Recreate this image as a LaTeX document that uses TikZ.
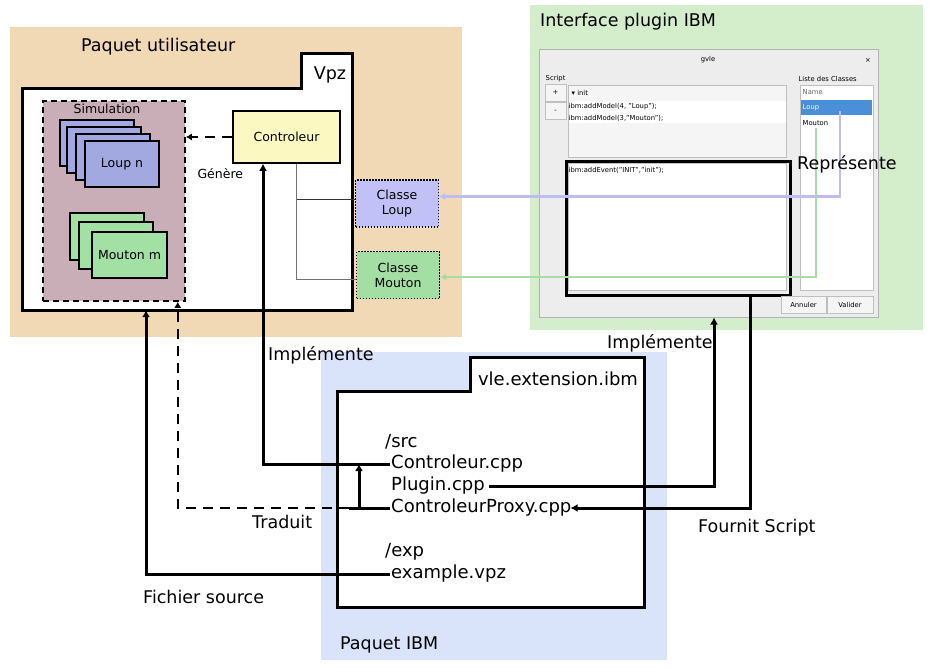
\documentclass[tikz,border=0pt]{standalone}
\usepackage{fontspec}
\setmainfont{DejaVu Sans}
\usepackage{xcolor}
\definecolor{userbg}{HTML}{F1D9B5}
\definecolor{ifacebg}{HTML}{D4EDCB}
\definecolor{ibmbg}{HTML}{D9E4FA}
\definecolor{simfill}{HTML}{C9AEB8}
\definecolor{loupfill}{HTML}{A1A9E0}
\definecolor{moutonfill}{HTML}{A3E0A3}
\definecolor{ctrlfill}{HTML}{FBF8C1}
\definecolor{classloup}{HTML}{C1C1F8}
\definecolor{classmouton}{HTML}{A3DFA3}
\definecolor{loupline}{HTML}{BDBDF2}
\definecolor{moutonline}{HTML}{A6DDA6}
\definecolor{winbg}{HTML}{EDEDED}
\definecolor{selblue}{HTML}{4A90D9}
\usetikzlibrary{arrows.meta,positioning,calc}

\tikzset{
  biglabel/.style={font=\fontsize{17.5}{21}\selectfont, inner sep=1pt},
  filetext/.style={font=\fontsize{18}{21}\selectfont, inner sep=1pt, anchor=west},
  folderline/.style={line width=3pt, fill=white},
  stackbox/.style={draw, line width=1.5pt, minimum width=74, minimum height=46},
  classbox/.style={draw, line width=1.2pt, dash pattern=on 1.5pt off 1.5pt,
    minimum width=83, minimum height=47, align=center},
  heavy/.style={line width=3pt},
  heavyarrow/.style={line width=3pt, -{Latex[length=7pt,width=8pt]}},
  dasharrow/.style={line width=2pt, dash pattern=on 10pt off 7pt, -{Latex[length=6pt,width=7pt]}},
  colarrow/.style={line width=2.2pt, -{Latex[length=6pt,width=7pt]}},
  tinytext/.style={font=\fontsize{6.8}{8}\selectfont, inner sep=0.5pt},
  guibtn/.style={draw=black!25, fill=black!4, tinytext},
}

\begin{document}
\begin{tikzpicture}[x=1pt, y=-1pt, font=\fontsize{12.5}{15}\selectfont]
  \useasboundingbox (0,0) rectangle (929,667);

  % Package backgrounds
  \fill[userbg] (10,27) rectangle (462,337);
  \fill[ifacebg] (530,5) rectangle (923,330);
  \fill[ibmbg] (321,352) rectangle (667,660);
  \node[biglabel, anchor=west] (paqUser) at (80,47) {Paquet utilisateur};
  \node[biglabel, anchor=west] (paqIface) at (539,22) {Interface plugin IBM};
  \node[biglabel, anchor=west] (paqIBM) at (339,645) {Paquet IBM};

  % Vpz folder
  \node[minimum width=329, minimum height=221, inner sep=0] (vpz) at (187.5,199.5) {};
  \draw[folderline] (vpz.south west) |- ([xshift=-51pt]vpz.north east)
    |- ++(51,-35) -- (vpz.south east) -- cycle;
  \node[biglabel] (vpzlbl) at (330,75) {Vpz};

  % Simulation
  \node[draw, fill=simfill, line width=1.5pt, dash pattern=on 6pt off 4pt,
    minimum width=142, minimum height=200] (sim) at (114,201) {};
  \node (simlbl) at (107,109) {Simulation};
  \foreach \dx/\dy in {0/0,7/7,16/14}
    \draw[fill=loupfill, line width=1.5pt] (60+\dx,120+\dy) rectangle ++(74,46);
  \node[stackbox, fill=loupfill] (loup) at (122,164) {Loup n};
  \foreach \dx/\dy in {0/0,9/9}
    \draw[fill=moutonfill, line width=1.5pt] (70+\dx,213+\dy) rectangle ++(74,47);
  \node[stackbox, fill=moutonfill, minimum width=75] (mouton) at (129.5,255) {Mouton m};

  % Controleur and classes
  \node[draw, fill=ctrlfill, line width=1.5pt, minimum width=107, minimum height=52] (ctrl) at (286.5,137) {Controleur};
  \draw[dasharrow] (ctrl.west) -- (ctrl.west -| sim.east);
  \node[anchor=west] (genere) at (194,174) {Génère};
  \node[classbox, fill=classloup] (cloup) at (397,203.5) {Classe\\Loup};
  \node[classbox, fill=classmouton] (cmouton) at (398,275) {Classe\\Mouton};
  \draw[black!80, line width=0.8pt] ([xshift=9.5pt]ctrl.south) |- ([yshift=4pt]cloup.west);
  \draw[black!55, line width=0.8pt] ([xshift=9.5pt]ctrl.south) |- ([yshift=-4pt]cmouton.west);

  % Plugin window
  \node[draw=black!30, fill=winbg, line width=1pt, minimum width=339, minimum height=268] (win) at (708.5,183) {};
  \node[tinytext] (wtitle) at (708,60) {gvle};
  \node[tinytext] (wclose) at (868,60) {×};
  \node[tinytext, anchor=west] (scriptlbl) at (545,79) {Script};
  \node[guibtn, minimum width=21, minimum height=17] (bplus) at (555.5,92.5) {+};
  \node[guibtn, minimum width=21, minimum height=17] (bminus) at (555.5,111) {-};
  \draw[draw=black!25, fill=black!4] (568,85) rectangle (786,157);
  \fill[white] (568.5,101) rectangle (785.5,123);
  \node[tinytext, anchor=west] (init) at (571,93) {▾ init};
  \node[tinytext, anchor=west] (model1) at (568,107) {ibm:addModel(4, "Loup");};
  \node[tinytext, anchor=west] (model2) at (568,118) {ibm:addModel(3,"Mouton");};
  \draw[draw=black!25, fill=white] (568,163) rectangle (786,290);
  \node[draw, line width=3pt, minimum width=224, minimum height=134] (evt) at (678,228) {};
  \node[tinytext, anchor=west] (addevt) at (568,170) {ibm:addEvent("INIT","init");};
  \node[tinytext, anchor=west] (lstlbl) at (798,79) {Liste des Classes};
  \node[draw=black!25, fill=white, minimum width=73, minimum height=205] (lst) at (836.5,187.5) {};
  \node[tinytext, anchor=west, text=black!60] (namecol) at (802,92.5) {Name};
  \fill[selblue] (801,100) rectangle (872,115);
  \node[tinytext, anchor=west, text=white] (rowloup) at (802,107.5) {Loup};
  \node[tinytext, anchor=west] (rowmouton) at (802,123) {Mouton};
  \node[guibtn, minimum width=45, minimum height=17] (bann) at (803.5,304.5) {Annuler};
  \node[guibtn, minimum width=46, minimum height=17] (bval) at (850,304.5) {Valider};

  % Class links
  \coordinate (ploup) at (840,111);
  \coordinate (pmouton) at (816,128);
  \draw[colarrow, loupline] (ploup) |- ([yshift=7pt]cloup.east);
  \draw[colarrow, moutonline] (pmouton) |- ([yshift=-2pt]cmouton.east);
  \node[biglabel, anchor=west] (represente) at (796,164) {Représente};

  % vle.extension.ibm folder
  \node[minimum width=306, minimum height=215, inner sep=0] (ibm) at (491,499.5) {};
  \draw[folderline] (ibm.south west) |- ([xshift=-174pt]ibm.north east)
    |- ++(174,-34) -- (ibm.south east) -- cycle;
  \node[font=\fontsize{18}{21}\selectfont, inner sep=1pt] (ibmlbl) at (558,379) {vle.extension.ibm};
  \node[filetext] (src) at (384,442) {/src};
  \node[filetext] (ctrlcpp) at (390,464) {Controleur.cpp};
  \node[filetext] (plugin) at (390,486) {Plugin.cpp};
  \node[filetext] (proxy) at (390,508) {ControleurProxy.cpp};
  \node[filetext] (exp) at (384,552) {/exp};
  \node[filetext] (example) at (390,574) {example.vpz};

  % Links between packages
  \draw[heavyarrow] (ctrlcpp.west) -| ([xshift=-23.5pt]ctrl.south);
  \node[biglabel, anchor=west] (impl1) at (267,355) {Implémente};
  \draw[heavyarrow] ([xshift=3pt]plugin.east) -| ([xshift=5.5pt]win.south);
  \node[biglabel, anchor=west] (impl2) at (606,343) {Implémente};
  \draw[heavyarrow] ([xshift=72pt]evt.south) |- ([xshift=-2pt]proxy.east);
  \node[biglabel, anchor=west] (fournit) at (697,528) {Fournit Script};
  \draw[heavy] (proxy.west) -- ++(-41,0) coordinate (trd);
  \draw[heavyarrow] ([xshift=-31pt]proxy.west) -- ([xshift=-31pt]proxy.west |- ctrlcpp.west);
  \draw[dasharrow] (trd) -| ([xshift=-8pt]sim.south east);
  \node[biglabel, anchor=west] (traduit) at (251,522) {Traduit};
  \draw[heavyarrow] (example.west) -| ([xshift=-41.5pt]vpz.south);
  \node[biglabel, anchor=west] (fichier) at (142,597) {Fichier source};
\end{tikzpicture}
\end{document}
